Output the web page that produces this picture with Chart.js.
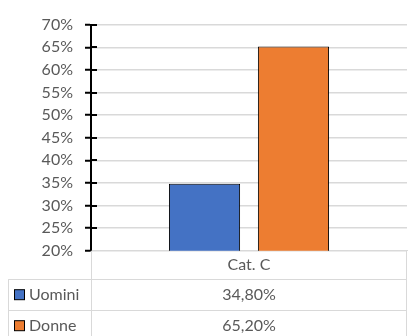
<!DOCTYPE html>
<html>
<head>
<meta charset="utf-8">
<script src="https://cdn.jsdelivr.net/npm/chart.js@4/dist/chart.umd.min.js"></script>
<style>
	html, body { margin: 0; padding: 0; background: #fff; }
	canvas { display: block; }
</style>
</head>
<body>
<canvas id="myChart" width="409" height="336"></canvas>
<script>
const categories = ["Cat. C"];
const seriesNames = ["Uomini", "Donne"];
const uomini = [34.8];
const donne = [65.2];
const seriesColors = ["#4472C4", "#ED7D31"];
const yMin = 20;
const yMax = 70;
const yStep = 5;

const FONT = "Lato, 'Open Sans', sans-serif";
const FONT_SIZE = 16;
const TEXT_COLOR = "#595959";
const LINE_COLOR = "#d9d9d9";

function formatPct(v) {
	return v.toFixed(2).replace(".", ",") + "%";
}

// ticks that cross the axis line (Chart.js only draws the outer half)
const crossTicks = {
	id: "crossTicks",
	afterDatasetsDraw(chart) {
		const ctx = chart.ctx;
		const y = chart.scales.y;
		ctx.save();
		ctx.strokeStyle = "#000";
		ctx.lineWidth = 2;
		y.ticks.forEach((t) => {
			const py = Math.round(y.getPixelForValue(t.value));
			if (t.value === yMin) return;
			ctx.beginPath();
			ctx.moveTo(y.right, py);
			ctx.lineTo(y.right + 6, py);
			ctx.stroke();
		});
		ctx.restore();
	},
};

// data table below the plot: legend keys + values per series
const dataTable = {
	id: "dataTable",
	afterDraw(chart) {
		const ctx = chart.ctx;
		const area = chart.chartArea;
		const x = chart.scales.x;
		const left = 8.5;
		const mid = Math.round(area.left) + 0.5;
		const right = Math.round(area.right) - 0.5;
		const top = area.bottom;
		const rowH = 31;
		const firstRow = 28.5;
		const bottom = chart.height + 10;

		ctx.save();
		ctx.strokeStyle = LINE_COLOR;
		ctx.lineWidth = 1;
		ctx.beginPath();
		ctx.moveTo(mid, top);
		ctx.lineTo(mid, bottom);
		ctx.moveTo(right, top);
		ctx.lineTo(right, bottom);
		ctx.moveTo(left, top + firstRow);
		ctx.lineTo(left, bottom);
		for (let i = 0; i < seriesNames.length; i++) {
			const ry = Math.round(top + firstRow + i * rowH) + 0.5;
			ctx.moveTo(left, ry);
			ctx.lineTo(right, ry);
		}
		ctx.stroke();

		ctx.font = FONT_SIZE + "px " + FONT;
		ctx.fillStyle = TEXT_COLOR;
		ctx.textBaseline = "middle";
		chart.data.datasets.forEach((ds, i) => {
			const cy = top + firstRow + i * rowH + rowH / 2;
			// legend key
			ctx.fillStyle = ds.backgroundColor;
			ctx.fillRect(14.5, cy - 5, 10, 10);
			ctx.strokeStyle = "#000";
			ctx.strokeRect(14.5, cy - 5, 10, 10);
			ctx.fillStyle = TEXT_COLOR;
			ctx.textAlign = "left";
			ctx.fillText(ds.label, 29, cy);
			// values, one per category
			ctx.textAlign = "center";
			ds.data.forEach((v, j) => {
				ctx.fillText(formatPct(v), x.getPixelForValue(j), cy);
			});
		});
		ctx.restore();
	},
};

const chart = new Chart(document.getElementById("myChart"), {
	type: "bar",
	data: {
		labels: categories,
		datasets: [
			{
				label: seriesNames[0],
				data: uomini,
				backgroundColor: seriesColors[0],
				borderColor: "#000",
				borderWidth: 1,
			},
			{
				label: seriesNames[1],
				data: donne,
				backgroundColor: seriesColors[1],
				borderColor: "#000",
				borderWidth: 1,
			},
		],
	},
	options: {
		responsive: false,
		animation: false,
		categoryPercentage: 0.563,
		barPercentage: 0.8,
		layout: { padding: { top: 24.7, right: 2, left: 0, bottom: 0 } },
		plugins: {
			legend: { display: false },
			tooltip: { enabled: false },
		},
		scales: {
			x: {
				grid: { display: false, drawTicks: false },
				border: { display: true, color: LINE_COLOR, width: 1 },
				ticks: {
					padding: 5,
					color: TEXT_COLOR,
					font: { family: FONT, size: FONT_SIZE },
				},
				afterFit(scale) {
					scale.height = 85.3;
				},
			},
			y: {
				min: yMin,
				max: yMax,
				grid: {
					color: LINE_COLOR,
					lineWidth: 1.5,
					tickColor: "#000",
					tickWidth: 2,
					tickLength: 6,
				},
				border: { display: true, color: "#000", width: 2 },
				ticks: {
					stepSize: yStep,
					padding: 12,
					color: TEXT_COLOR,
					font: { family: FONT, size: FONT_SIZE },
					callback: (v) => v + "%",
				},
				afterFit(scale) {
					scale.width = 91;
				},
			},
		},
	},
	plugins: [crossTicks, dataTable],
});
</script>
</body>
</html>
